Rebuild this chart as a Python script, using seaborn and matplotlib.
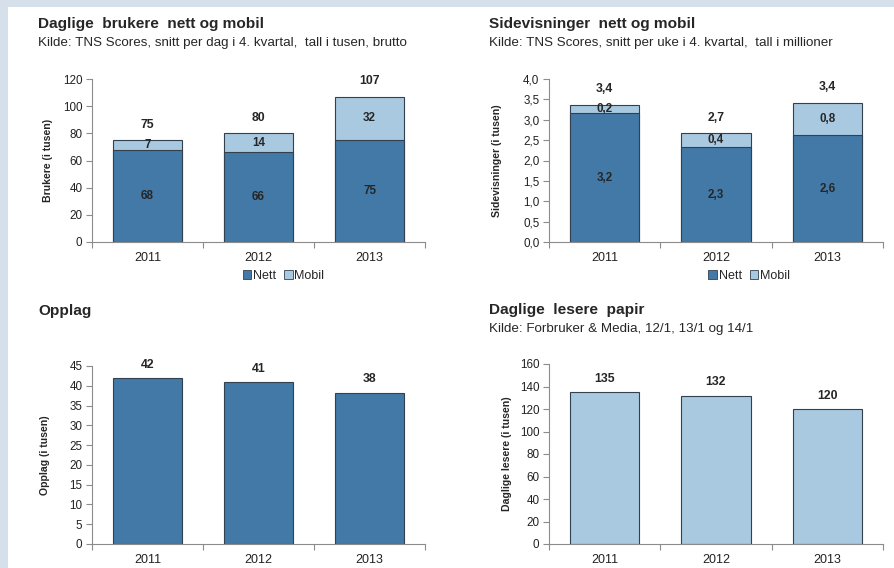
import numpy as np
import pandas as pd
import matplotlib
matplotlib.use("Agg")
import matplotlib.pyplot as plt
from matplotlib.patches import Patch, Rectangle
from matplotlib.ticker import FuncFormatter, FixedLocator
import seaborn as sns

# data
years = ["2011", "2012", "2013"]
brukere_nett = [68, 66, 75]
brukere_mobil = [7, 14, 32]
sider_nett = [3.16, 2.32, 2.62]
sider_mobil = [0.21, 0.36, 0.80]
opplag = [42, 41, 38.3]
lesere_papir = [135, 132, 120]

DARK = "#4279a6"
LIGHT = "#a9c9e0"
EDGE = "#33404d"
AXIS = "#8c8c8c"

sns.set_style("white")
plt.rcParams["font.family"] = ["Liberation Sans", "DejaVu Sans"]

fig = plt.figure(figsize=(8.94, 5.68), dpi=100)
fig.patch.set_facecolor("#d5e0ea")
fig.patches.append(Rectangle((8 / 894, 0), 1, 1 - 7 / 568, transform=fig.transFigure,
                             facecolor="white", edgecolor="none", zorder=-10))


def px_axes(x0, x1, ytop, ybot):
    return fig.add_axes([x0 / 894, (568 - ybot) / 568, (x1 - x0) / 894, (ybot - ytop) / 568])


def style_axes(ax, ymax, step, ylabel, lab_x, comma=False):
    ax.set_xlim(-0.5, 2.5)
    ax.set_ylim(0, ymax)
    ax.set_yticks(np.arange(0, ymax + step / 2, step))
    if comma:
        ax.yaxis.set_major_formatter(FuncFormatter(lambda v, p: f"{v:.1f}".replace(".", ",")))
    for s in ["top", "right"]:
        ax.spines[s].set_visible(False)
    for s in ["left", "bottom"]:
        ax.spines[s].set_color(AXIS)
        ax.spines[s].set_linewidth(0.8)
    ax.tick_params(axis="y", which="major", direction="out", length=4, width=0.8,
                   color=AXIS, labelsize=8.4, pad=3, left=True, labelcolor="#222222")
    ax.tick_params(axis="x", which="major", length=0, labelsize=9, pad=7,
                   labelcolor="#222222")
    ax.xaxis.set_minor_locator(FixedLocator([-0.5, 0.5, 1.5, 2.5]))
    ax.tick_params(axis="x", which="minor", direction="out", length=4, width=0.8,
                   color=AXIS, bottom=True)
    ax.set_xlabel("")
    ax.set_ylabel(ylabel, fontsize=7.6, fontweight="bold")
    ax.yaxis.set_label_coords(lab_x, 0.5)


def bars(ax, values, color):
    df = pd.DataFrame({"year": years, "v": values})
    sns.barplot(data=df, x="year", y="v", order=years, color=color, width=0.62,
                edgecolor=EDGE, linewidth=0.8, saturation=1, ax=ax)


def legend(ax, xc):
    handles = [Patch(facecolor=DARK, edgecolor=EDGE, linewidth=0.6, label="Nett"),
               Patch(facecolor=LIGHT, edgecolor=EDGE, linewidth=0.6, label="Mobil")]
    ax.legend(handles=handles, loc="center", bbox_to_anchor=(xc, -0.21), ncol=2,
              frameon=False, fontsize=9, handlelength=0.7, handleheight=0.7,
              handletextpad=0.15, columnspacing=0.6, borderaxespad=0)


def fmt(v, dec):
    return f"{v:.{dec}f}".replace(".", ",")


def top_label(ax, i, v, dec, off):
    ax.annotate(fmt(v, dec), (i, v), xytext=(0, off), textcoords="offset points",
                ha="center", va="center", fontsize=8.8, fontweight="bold")


def mid_label(ax, i, y, v, dec):
    ax.text(i, y, fmt(v, dec), ha="center", va="center", fontsize=8.4, fontweight="bold")


# chart 1: Daglige brukere
ax1 = px_axes(92, 425, 79, 242)
tot1 = [n + m for n, m in zip(brukere_nett, brukere_mobil)]
bars(ax1, tot1, LIGHT)
bars(ax1, brukere_nett, DARK)
style_axes(ax1, 120, 20, "Brukere (i tusen)", -0.117)
for i in range(3):
    mid_label(ax1, i, brukere_nett[i] / 2, brukere_nett[i], 0)
    mid_label(ax1, i, brukere_nett[i] + brukere_mobil[i] / 2, brukere_mobil[i], 0)
    top_label(ax1, i, tot1[i], 0, 11)
legend(ax1, 0.575)

# chart 2: Sidevisninger
ax2 = px_axes(549, 883, 79, 242)
tot2 = [n + m for n, m in zip(sider_nett, sider_mobil)]
bars(ax2, tot2, LIGHT)
bars(ax2, sider_nett, DARK)
style_axes(ax2, 4.0, 0.5, "Sidevisninger (i tusen)", -0.141, comma=True)
for i in range(3):
    mid_label(ax2, i, sider_nett[i] / 2, sider_nett[i], 1)
    mid_label(ax2, i, sider_nett[i] + sider_mobil[i] / 2, sider_mobil[i], 1)
    top_label(ax2, i, tot2[i], 1, 11)
legend(ax2, 0.6)

# chart 3: Opplag
ax3 = px_axes(92, 425, 366, 544)
bars(ax3, opplag, DARK)
style_axes(ax3, 45, 5, "Opplag (i tusen)", -0.126)
for i in range(3):
    top_label(ax3, i, opplag[i], 0, 9.5)

# chart 4: Daglige lesere papir
ax4 = px_axes(549, 883, 364, 544)
bars(ax4, lesere_papir, LIGHT)
style_axes(ax4, 160, 20, "Daglige lesere (i tusen)", -0.111)
for i in range(3):
    top_label(ax4, i, lesere_papir[i], 0, 9.5)


# titles
def title(x, y, s, sub=None):
    fig.text(x / 894, 1 - y / 568, s, fontsize=11.1, fontweight="bold", va="center", ha="left")
    if sub:
        fig.text(x / 894, 1 - (y + 19) / 568, sub, fontsize=9.6, va="center", ha="left")


title(38, 24, "Daglige  brukere  nett og mobil",
      "Kilde: TNS Scores, snitt per dag i 4. kvartal,  tall i tusen, brutto")
title(489, 24, "Sidevisninger  nett og mobil",
      "Kilde: TNS Scores, snitt per uke i 4. kvartal,  tall i millioner")
title(38, 311, "Opplag")
title(489, 310, "Daglige  lesere  papir", "Kilde: Forbruker & Media, 12/1, 13/1 og 14/1")

fig.savefig("out.png", dpi=100, facecolor=fig.get_facecolor())
